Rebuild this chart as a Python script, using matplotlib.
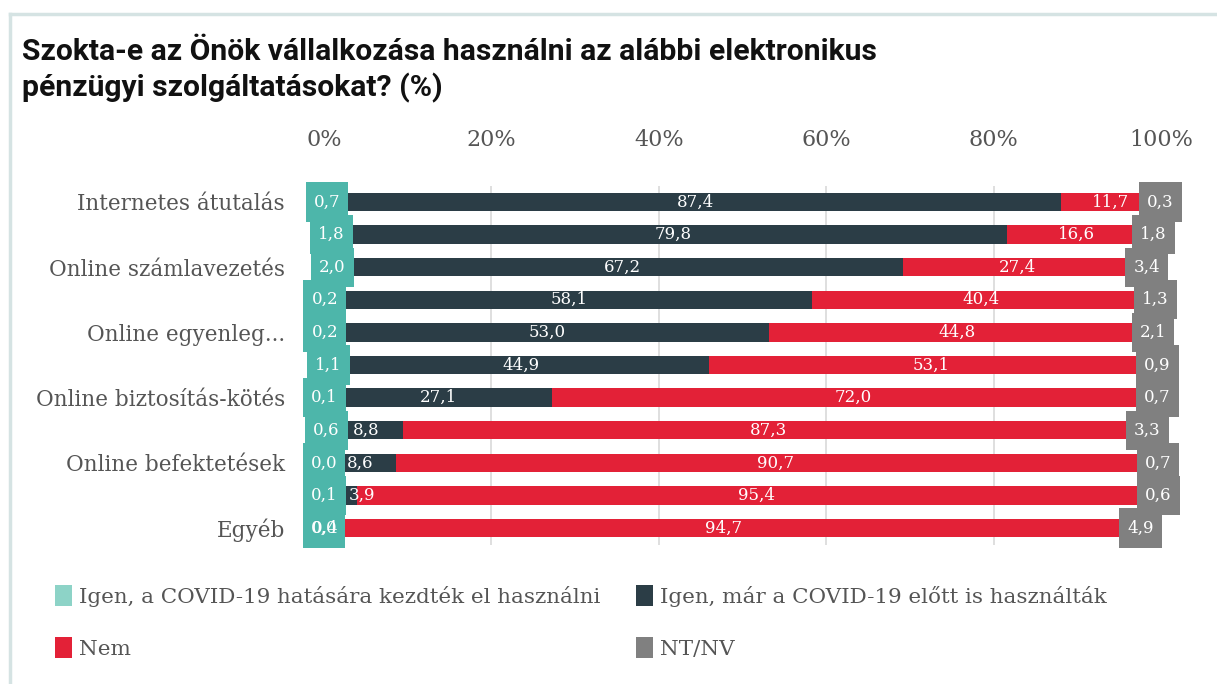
import matplotlib.pyplot as plt
from matplotlib.patches import Patch
from matplotlib.lines import Line2D

# data (%)
categories = ["Internetes átutalás", "", "Online számlavezetés", "", "Online egyenleg...", "",
              "Online biztosítás-kötés", "", "Online befektetések", "", "Egyéb"]
covid_start = [0.7, 1.8, 2.0, 0.2, 0.2, 1.1, 0.1, 0.6, 0.0, 0.1, 0.0]
before_covid = [87.4, 79.8, 67.2, 58.1, 53.0, 44.9, 27.1, 8.8, 8.6, 3.9, 0.4]
no_use = [11.7, 16.6, 27.4, 40.4, 44.8, 53.1, 72.0, 87.3, 90.7, 95.4, 94.7]
dont_know = [0.3, 1.8, 3.4, 1.3, 2.1, 0.9, 0.7, 3.3, 0.7, 0.6, 4.9]

series_names = ["Igen, a COVID-19 hatására kezdték el használni",
                "Igen, már a COVID-19 előtt is használták",
                "Nem", "NT/NV"]
xticks = [0, 20, 40, 60, 80, 100]
xtick_labels = ["0%", "20%", "40%", "60%", "80%", "100%"]

TEAL = "#4db6aa"
TEAL_LEGEND = "#8dd3c7"
DARK = "#2b3d46"
RED = "#e32137"
GRAY = "#808080"
TXT = "#555555"

plt.rcParams["font.family"] = ["DejaVu Serif"]

fig = plt.figure(figsize=(12.17, 6.84), dpi=100)
ax = fig.add_axes([324 / 1217, 1 - 545 / 684, (1161 - 324) / 1217, (545 - 186) / 684])

ypos = list(range(len(categories)))
series = [covid_start, before_covid, no_use, dont_know]
colors = [TEAL, DARK, RED, GRAY]

BOX_W = 5.1   # label box width, in % units
BOX_H = 1.2   # label box height, in row units

def fmt(v):
    return f"{v:.1f}".replace(".", ",")

lefts = [0.0] * len(categories)
for vals, col in zip(series, colors):
    ax.barh(ypos, vals, left=lefts, height=0.56, color=col, zorder=2)
    centers = [l + v / 2 for l, v in zip(lefts, vals)]
    if col in (TEAL, GRAY):
        # boxed labels sitting on the small end segments
        boxes = ax.barh(ypos, [BOX_W] * len(vals), left=[c - BOX_W / 2 for c in centers],
                        height=BOX_H, color=col, zorder=3)
        for b in boxes:
            b.set_clip_on(False)
    for i, v in enumerate(vals):
        x = centers[i]
        if col == DARK and 1 <= v < 5:
            x = max(x, 4.5)  # keep clear of the teal label box
        ax.text(x, i, fmt(v), ha="center", va="center", color="white", fontsize=12, zorder=5)
    lefts = [l + v for l, v in zip(lefts, vals)]

ax.set_xlim(0, 100)
ax.set_ylim(10.52, -0.49)
ax.set_xticks(xticks)
ax.set_xticklabels(xtick_labels)
ax.xaxis.tick_top()
ax.set_yticks(ypos)
ax.set_yticklabels(categories)
ax.tick_params(axis="x", length=0, pad=25, labelsize=16, labelcolor=TXT)
ax.tick_params(axis="y", length=0, pad=28, labelsize=15.5, labelcolor=TXT)
for s in ax.spines.values():
    s.set_visible(False)
ax.grid(axis="x", color="#d9d9d9", linewidth=1.2, zorder=0)
ax.set_axisbelow(True)

# title
fig.text(22 / 1217, 1 - 38 / 684,
         "Szokta-e az Önök vállalkozása használni az alábbi elektronikus\npénzügyi szolgáltatásokat? (%)",
         ha="left", va="top", fontsize=21.7, fontweight="bold", linespacing=1.3,
         family=["Roboto", "DejaVu Sans"], color="#111111")

# frame lines
fig.add_artist(Line2D([10 / 1217, 1], [1 - 14 / 684, 1 - 14 / 684], color="#d5e3e3", lw=2.5))
fig.add_artist(Line2D([10 / 1217, 10 / 1217], [0, 1 - 14 / 684], color="#d5e3e3", lw=2.5))

# legend in two columns
legend_colors = [TEAL_LEGEND, DARK, RED, GRAY]
handles = [Patch(facecolor=c, edgecolor="none") for c in legend_colors]
for col_idx, xpix in enumerate([55, 636]):
    idx = [col_idx, col_idx + 2]
    fig.legend([handles[k] for k in idx], [series_names[k] for k in idx],
               loc="upper left", bbox_to_anchor=(xpix / 1217, 1 - 585 / 684),
               frameon=False, borderpad=0, borderaxespad=0, fontsize=15.4,
               handlelength=0.8, handleheight=1.1, handletextpad=0.3,
               labelspacing=1.43, labelcolor=TXT)

fig.savefig("out.png", dpi=100)
